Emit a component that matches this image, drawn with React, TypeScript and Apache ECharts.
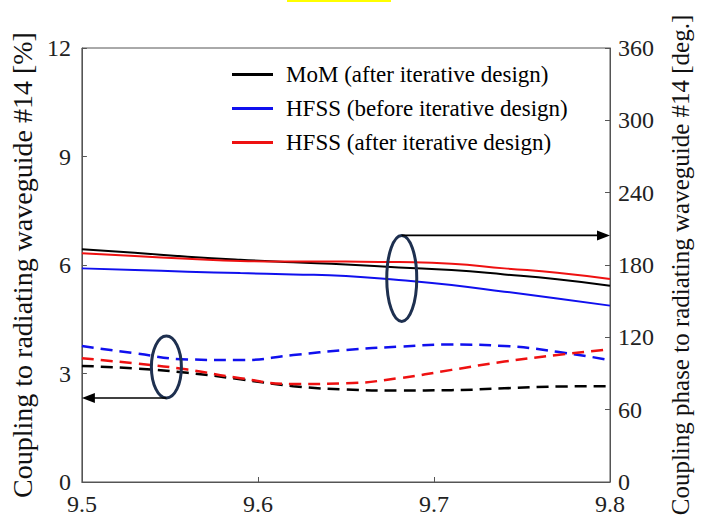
import React, { useEffect, useRef } from "react";
import * as echarts from "echarts";

const freqs = [9.5, 9.53, 9.56, 9.59, 9.62, 9.65, 9.68, 9.71, 9.74, 9.77, 9.8];
// Coupling phase [deg] (right axis) – solid lines
const momPhase = [193.0, 190.2, 186.9, 184.3, 182.3, 180.5, 178.0, 175.8, 172.2, 168.1, 162.8];
const hfssBeforePhase = [177.2, 175.8, 174.5, 173.3, 172.2, 170.9, 167.5, 163.4, 157.9, 152.3, 146.3];
const hfssAfterPhase = [189.7, 187.4, 185.2, 183.3, 182.9, 182.8, 182.4, 181.0, 177.2, 173.6, 168.4];
// Coupling [%] (left axis) – dashed lines
const momCoupling = [3.21, 3.14, 3.02, 2.84, 2.65, 2.56, 2.53, 2.54, 2.59, 2.64, 2.65];
const hfssBeforeCoupling = [3.76, 3.56, 3.39, 3.37, 3.51, 3.65, 3.74, 3.8, 3.76, 3.6, 3.37];
const hfssAfterCoupling = [3.42, 3.28, 3.11, 2.87, 2.71, 2.73, 2.87, 3.1, 3.33, 3.51, 3.67];

const seriesNames = [
  "MoM (after iterative design)",
  "HFSS (before iterative design)",
  "HFSS (after iterative design)",
];
const xTicks = { min: 9.5, max: 9.8, interval: 0.1 };
const leftTicks = { min: 0, max: 12, interval: 3 };
const rightTicks = { min: 0, max: 360, interval: 60 };
const leftTitle = "Coupling to radiating waveguide #14 [%]";
const rightTitle = "Coupling phase to radiating waveguide #14 [deg.]";

// annotation anchors in data coords (x, left-axis value)
const phaseMarker = [9.6817, 5.63];
const couplingMarker = [9.548, 3.18];

const FONT = "Liberation Serif";
const COLORS = ["#000000", "#1010ee", "#ee1111"];
const AXIS_COLOR = "#555555";

const zip = (ys: number[]) => freqs.map((x, i) => [x, ys[i]]);

export default function App() {
  const ref = useRef<HTMLDivElement>(null);
  useEffect(() => {
    if (!ref.current) return;
    const chart = echarts.init(ref.current, null, { renderer: "svg" });
    const axisCommon = {
      axisLine: { show: true, lineStyle: { color: AXIS_COLOR, width: 1 } },
      axisTick: { show: true, inside: true, length: 5, lineStyle: { color: AXIS_COLOR } },
      splitLine: { show: false },
    };
    const solid = (name: string, data: number[], color: string) => ({
      type: "line",
      name,
      yAxisIndex: 1,
      data: zip(data),
      smooth: true,
      showSymbol: false,
      lineStyle: { color, width: 2 },
      itemStyle: { color },
    });
    const dashed = (name: string, data: number[], color: string) => ({
      type: "line",
      name,
      yAxisIndex: 0,
      data: zip(data),
      smooth: true,
      showSymbol: false,
      lineStyle: { color, width: 2.5, type: [12, 7] },
      itemStyle: { color },
    });
    chart.setOption({
      animation: false,
      backgroundColor: "#ffffff",
      textStyle: { fontFamily: FONT },
      grid: {
        left: 80,
        right: 86,
        top: 48,
        bottom: 39,
        show: true,
        borderColor: AXIS_COLOR,
        borderWidth: 1,
      },
      legend: {
        orient: "vertical",
        left: 227,
        top: 58,
        data: seriesNames,
        icon: "rect",
        itemWidth: 41,
        itemHeight: 3,
        itemGap: 11,
        selectedMode: false,
        textStyle: {
          fontFamily: FONT,
          fontSize: 23,
          color: "#000",
          lineHeight: 23,
          padding: [0, 0, 0, 8],
        },
      },
      xAxis: {
        type: "value",
        ...xTicks,
        ...axisCommon,
        axisLabel: {
          fontFamily: FONT,
          fontSize: 24,
          color: "#222",
          margin: 10,
          formatter: (v: number) => v.toFixed(1),
        },
      },
      yAxis: [
        {
          type: "value",
          position: "left",
          ...leftTicks,
          ...axisCommon,
          name: leftTitle,
          nameLocation: "middle",
          nameRotate: 90,
          nameGap: 40,
          nameTextStyle: { fontFamily: FONT, fontSize: 28, color: "#111" },
          axisLabel: { fontFamily: FONT, fontSize: 24, color: "#222", margin: 11 },
        },
        {
          type: "value",
          position: "right",
          ...rightTicks,
          ...axisCommon,
          name: rightTitle,
          nameLocation: "middle",
          nameRotate: 90,
          nameGap: 58,
          nameTextStyle: { fontFamily: FONT, fontSize: 25, color: "#111" },
          axisLabel: { fontFamily: FONT, fontSize: 24, color: "#222", margin: 8 },
        },
      ],
      series: [
        solid(seriesNames[0], momPhase, COLORS[0]),
        solid(seriesNames[1], hfssBeforePhase, COLORS[1]),
        solid(seriesNames[2], hfssAfterPhase, COLORS[2]),
        dashed(seriesNames[0], momCoupling, COLORS[0]),
        dashed(seriesNames[1], hfssBeforeCoupling, COLORS[1]),
        dashed(seriesNames[2], hfssAfterCoupling, COLORS[2]),
      ],
    });

    const px = (pt: number[]) => chart.convertToPixel({ xAxisIndex: 0, yAxisIndex: 0 }, pt) as number[];
    const cA = px(phaseMarker);
    const cB = px(couplingMarker);
    const xLeft = px([xTicks.min, 0])[0];
    const xRight = px([xTicks.max, 0])[0];
    const rxA = 15, ryA = 43, rxB = 15, ryB = 31;
    const ayA = cA[1] - ryA;
    const ayB = cB[1] + ryB;
    const ELL = "#1e3050";
    chart.setOption({
      graphic: [
        { type: "rect", shape: { x: 287, y: 0, width: 104, height: 2 }, style: { fill: "#ffff00" } },
        {
          type: "ellipse",
          shape: { cx: cA[0], cy: cA[1], rx: rxA, ry: ryA },
          style: { fill: "none", stroke: ELL, lineWidth: 3 },
          z: 100,
        },
        {
          type: "line",
          shape: { x1: cA[0], y1: ayA, x2: xRight - 10, y2: ayA },
          style: { stroke: "#000", lineWidth: 1.6 },
          z: 100,
        },
        {
          type: "polygon",
          shape: { points: [[xRight, ayA], [xRight - 13, ayA - 5], [xRight - 13, ayA + 5]] },
          style: { fill: "#000" },
          z: 100,
        },
        {
          type: "ellipse",
          shape: { cx: cB[0], cy: cB[1], rx: rxB, ry: ryB },
          style: { fill: "none", stroke: ELL, lineWidth: 3 },
          z: 100,
        },
        {
          type: "line",
          shape: { x1: cB[0], y1: ayB, x2: xLeft + 10, y2: ayB },
          style: { stroke: "#000", lineWidth: 1.6 },
          z: 100,
        },
        {
          type: "polygon",
          shape: { points: [[xLeft, ayB], [xLeft + 13, ayB - 5], [xLeft + 13, ayB + 5]] },
          style: { fill: "#000" },
          z: 100,
        },
      ],
    });
    return () => chart.dispose();
  }, []);
  return (
    <div
      ref={ref}
      style={{ position: "absolute", left: 0, top: 0, width: 701, height: 521 }}
    />
  );
}
